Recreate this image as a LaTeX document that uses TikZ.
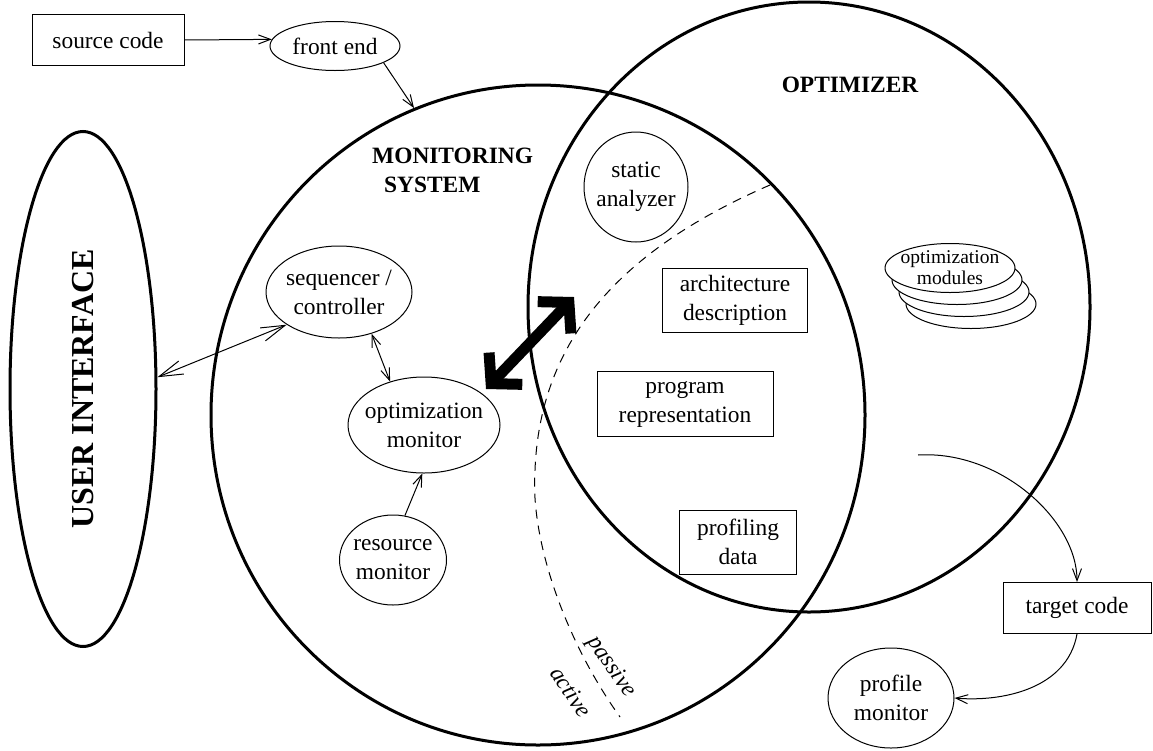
\documentclass[tikz,border=0pt]{standalone}
\usepackage{fontspec}
\setmainfont{Liberation Serif}
\usetikzlibrary{shapes.geometric,arrows.meta}

\begin{document}
\begin{tikzpicture}[x=1pt,y=-1pt,
    lbl/.style={font=\fontsize{23.4}{29}\selectfont,align=center,inner sep=0pt},
    boxnode/.style={lbl,draw,line width=1pt},
    ovalnode/.style={lbl,draw,ellipse,line width=1pt,inner xsep=-12pt,inner ysep=-4pt},
    zone/.style={draw,ellipse,line width=3pt,inner sep=0pt},
    heading/.style={font=\bfseries\fontsize{23.4}{29}\selectfont,align=left,inner sep=0pt},
    slanted/.style={lbl,font=\itshape\fontsize{23.4}{29}\selectfont,rotate=-56},
    flow/.style={line width=1pt,-{Straight Barb[length=12pt,width=9pt]}},
    twoway/.style={line width=1pt,{Straight Barb[length=12pt,width=9pt]}-{Straight Barb[length=12pt,width=9pt]}},
    bigtwoway/.style={line width=1pt,{Straight Barb[length=24pt,width=14pt]}-{Straight Barb[length=24pt,width=14pt]}},
    fattwoway/.style={line width=11pt,{Straight Barb[sharp,length=21pt,width=46pt]}-{Straight Barb[sharp,length=21pt,width=46pt]}}]
  \useasboundingbox (0,0) rectangle (1153,750);

  % the three big areas
  \node[zone,minimum width=654pt,minimum height=660pt] (mon) at (538,415) {};
  \node[zone,minimum width=562pt,minimum height=610pt] (opt) at (809,307) {};
  \node[zone,minimum width=146pt,minimum height=515pt] (ui) at (83,389) {};
  \node[heading,font=\bfseries\fontsize{32}{36}\selectfont,rotate=90] (uitxt) at (ui) {USER INTERFACE};
  \node[heading,anchor=north west] (montxt) at (372,148) {MONITORING\\\hspace*{12pt}SYSTEM};
  \node[heading] (opttxt) at (850,85) {OPTIMIZER};

  % input and output
  \node[boxnode,minimum width=152pt,minimum height=51pt] (src) at (108,40) {source code};
  \node[ovalnode,minimum width=130pt,minimum height=49pt] (fe) at (335,46) {front end};
  \node[boxnode,minimum width=148pt,minimum height=51pt] (tc) at (1077,608) {target code};
  \node[ovalnode,minimum width=126pt,minimum height=100pt] (pm) at (891,698) {profile\\monitor};

  % monitoring system
  \node[ovalnode,minimum width=146pt,minimum height=92pt] (sc) at (339,292) {sequencer /\\controller};
  \node[ovalnode,minimum width=152pt,minimum height=96pt] (om) at (424,425) {optimization\\monitor};
  \node[ovalnode,minimum width=107pt,minimum height=90pt] (rm) at (393,560) {resource\\monitor};

  % optimizer
  \node[ovalnode,minimum width=104pt,minimum height=110pt] (sa) at (636,187) {static\\analyzer};
  \node[boxnode,minimum width=145pt,minimum height=64pt] (ad) at (735,300) {architecture\\description};
  \node[boxnode,minimum width=176pt,minimum height=65pt] (pr) at (685,404) {program\\representation};
  \node[boxnode,minimum width=117pt,minimum height=64pt] (pd) at (738,542) {profiling\\data};
  \foreach \k in {3,2,1} {
    \node[draw,ellipse,fill=white,line width=1pt,minimum width=130pt,minimum height=49pt] (mod\k) at ({950+7*\k},{268+12*\k}) {};
  }
  \node[ovalnode,fill=white,font=\fontsize{19.5}{21}\selectfont,minimum width=130pt,minimum height=49pt] (mod0) at (950,268) {optimization\\modules};

  % passive / active border
  \draw[line width=1pt,dash pattern=on 9pt off 7pt] (770,185) .. controls (620,250) and (540,340) .. (535,470)
    .. controls (530,540) and (565,640) .. (620,717);
  \node[slanted] (pas) at (611,667) {passive};
  \node[slanted] (act) at (571,692) {active};

  % connectors
  \draw[flow] (src.east) -- (fe.174);
  \draw[flow] (fe.-19) -- (mon.112);
  \draw[bigtwoway] (sc.212) -- (ui.9);
  \draw[twoway] (sc.-52) -- (om.128);
  \draw[flow] (rm.75) -- (om.-92);
  \coordinate (ptA) at (486,389);
  \coordinate (ptB) at (574,297);
  \draw[fattwoway] (ptA) -- (ptB); % thick link
  \coordinate (optout) at (918,455);
  \draw[flow] (optout) .. controls (1000,450) and (1077,520) .. (tc.north);
  \draw[flow] (tc.south) .. controls (1067,690) and (1000,702) .. (pm.east);
\end{tikzpicture}
\end{document}
